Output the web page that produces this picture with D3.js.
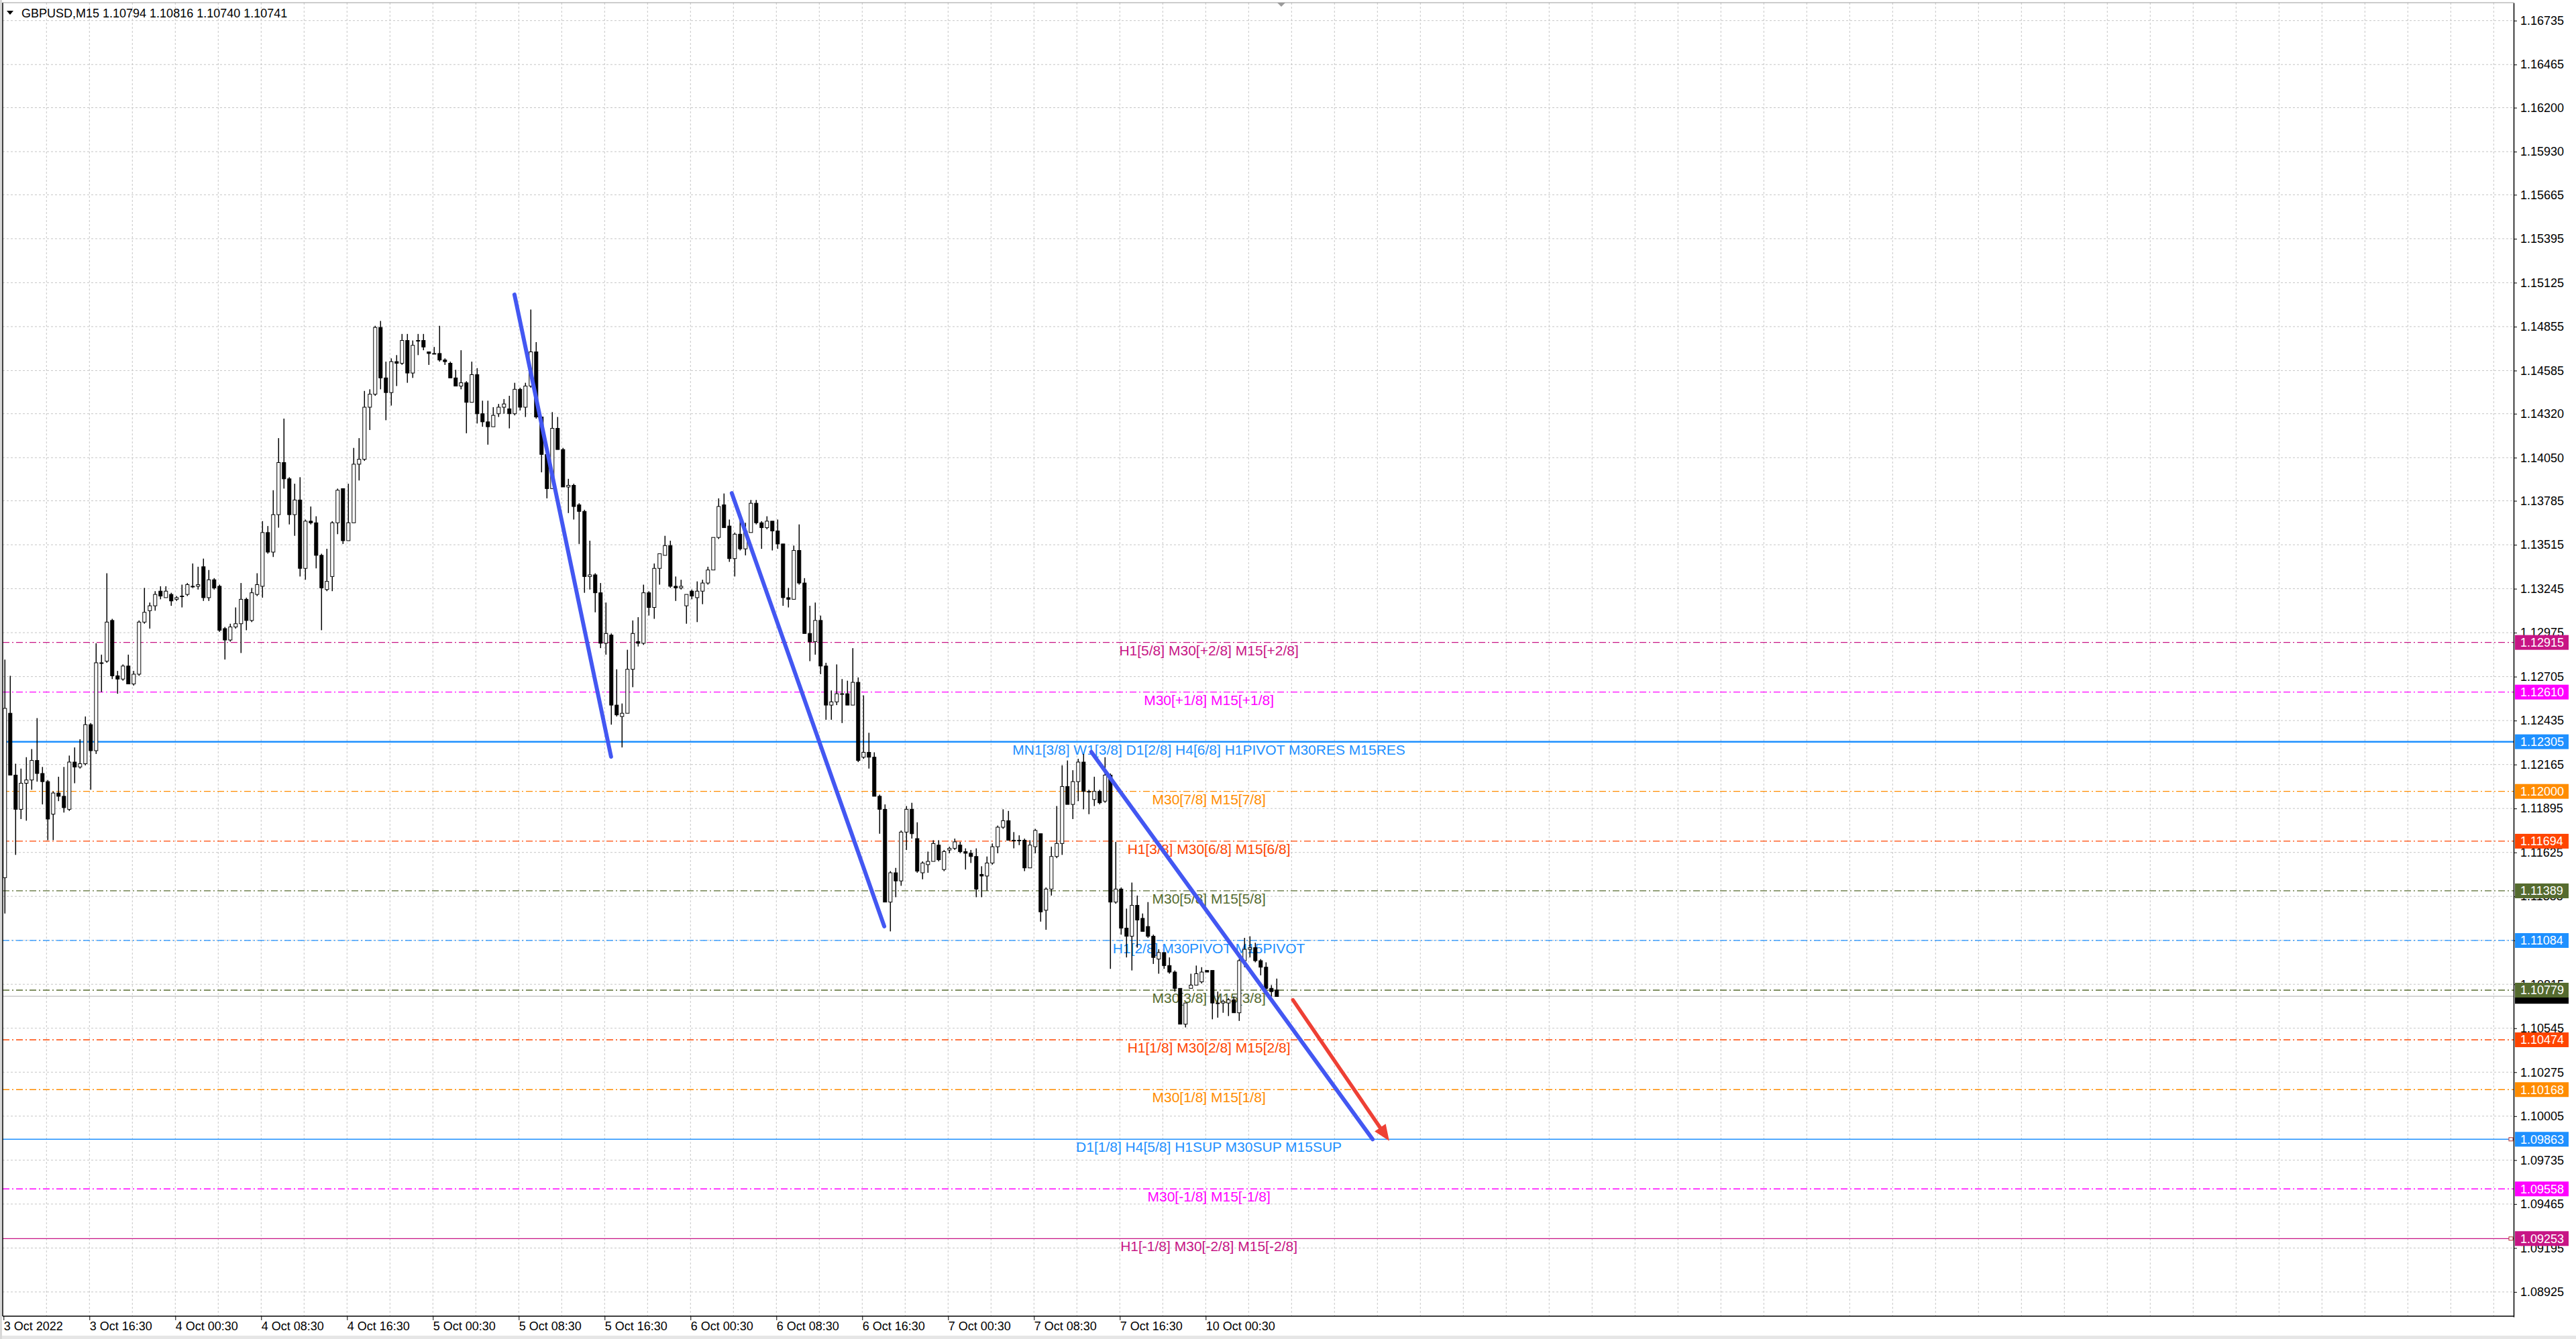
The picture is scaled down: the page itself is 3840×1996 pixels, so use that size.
<!DOCTYPE html>
<html>
<head>
<meta charset="utf-8">
<script src="https://cdn.jsdelivr.net/npm/d3@7"></script>
<style>
html, body { margin: 0; padding: 0; background: #fff; }
svg { display: block; }
</style>
</head>
<body>
<svg id="chart" width="3840" height="1996"></svg>
<script>
// GBPUSD M15 chart, candles read off the picture and grouped by 30 minutes
// candle k sits on M15 bar 2k (bar 0 = 3 Oct 08:30)
var opens = [
  1.1147,1.1248,1.1210,1.1189,1.1205,1.1207,1.1219,1.1211,1.1206,1.1186,
  1.1199,1.1197,1.1189,1.1218,1.1215,1.1217,1.1241,1.1225,1.1279,1.1280,
  1.1305,1.1271,1.1269,1.1277,1.1266,1.1272,1.1304,1.1311,1.1314,1.1323,
  1.1319,1.1321,1.1318,1.1320,1.1321,1.1326,1.1326,1.1338,1.1319,1.1330,
  1.1326,1.1300,1.1293,1.1301,1.1303,1.1318,1.1305,1.1321,1.1326,1.1359,
  1.1347,1.1370,1.1402,1.1392,1.1370,1.1379,1.1337,1.1366,1.1365,1.1345,
  1.1324,1.1332,1.1365,1.1386,1.1354,1.1365,1.1401,1.1404,1.1436,1.1444,
  1.1485,1.1454,1.1445,1.1464,1.1463,1.1477,1.1457,1.1477,1.1477,1.1470,
  1.1469,1.1469,1.1465,1.1463,1.1454,1.1449,1.1451,1.1439,1.1456,1.1432,
  1.1427,1.1424,1.1432,1.1436,1.1435,1.1432,1.1447,1.1436,1.1449,1.1470,
  1.1430,1.1407,1.1386,1.1423,1.1410,1.1387,1.1388,1.1376,1.1372,1.1332,
  1.1333,1.1322,1.1291,1.1296,1.1253,1.1246,1.1248,1.1275,1.1292,1.1291,
  1.1322,1.1313,1.1337,1.1345,1.1351,1.1326,1.1325,1.1314,1.1323,1.1319,
  1.1323,1.1328,1.1336,1.1356,1.1376,1.1363,1.1343,1.1358,1.1349,1.1359,
  1.1377,1.1365,1.1362,1.1366,1.1360,1.1352,1.1319,1.1318,1.1348,1.1328,
  1.1297,1.1292,1.1305,1.1277,1.1253,1.1255,1.1260,1.1260,1.1253,1.1267,
  1.1221,1.1224,1.1221,1.1197,1.1189,1.1132,1.1150,1.1145,1.1175,1.1189,
  1.1171,1.1150,1.1155,1.1157,1.1167,1.1152,1.1164,1.1165,1.1167,1.1163,
  1.1162,1.1160,1.1149,1.1148,1.1156,1.1166,1.1178,1.1182,1.1170,1.1170,
  1.1170,1.1153,1.1166,1.1174,1.1127,1.1140,1.1160,1.1168,1.1203,1.1192,
  1.1206,1.1218,1.1200,1.1195,1.1200,1.1194,1.1210,1.1132,1.1140,1.1116,
  1.1111,1.1130,1.1122,1.1117,1.1111,1.1097,1.1101,1.1093,1.1089,1.1079,
  1.1057,1.1079,1.1081,1.1083,1.1090,1.1090,1.1070,1.1070,1.1070,1.1072,
  1.1064,1.1096,1.1103,1.1104,1.1096,1.1092,1.1079,1.1078
];
var highs = [
  1.1281,1.1271,1.1217,1.1214,1.1221,1.1226,1.1245,1.1215,1.1207,1.1200,
  1.1209,1.1215,1.1222,1.1227,1.1232,1.1246,1.1242,1.1291,1.1284,1.1334,
  1.1306,1.1274,1.1278,1.1284,1.1274,1.1305,1.1325,1.1316,1.1323,1.1326,
  1.1326,1.1322,1.1320,1.1327,1.1328,1.1340,1.1338,1.1343,1.1336,1.1331,
  1.1327,1.1301,1.1303,1.1313,1.1328,1.1319,1.1325,1.1334,1.1366,1.1363,
  1.1385,1.1417,1.1429,1.1393,1.1389,1.1393,1.1367,1.1375,1.1369,1.1346,
  1.1349,1.1366,1.1386,1.1386,1.1389,1.1411,1.1417,1.1446,1.1447,1.1486,
  1.1489,1.1464,1.1466,1.1468,1.1481,1.1481,1.1477,1.1481,1.1481,1.1470,
  1.1473,1.1486,1.1466,1.1464,1.1459,1.1471,1.1452,1.1464,1.1460,1.1440,
  1.1440,1.1436,1.1438,1.1441,1.1443,1.1451,1.1448,1.1451,1.1496,1.1476,
  1.1430,1.1414,1.1433,1.1430,1.1411,1.1392,1.1389,1.1377,1.1373,1.1354,
  1.1334,1.1328,1.1316,1.1297,1.1275,1.1254,1.1287,1.1305,1.1307,1.1327,
  1.1323,1.1340,1.1346,1.1357,1.1354,1.1332,1.1330,1.1321,1.1324,1.1329,
  1.1330,1.1338,1.1356,1.1380,1.1383,1.1367,1.1359,1.1367,1.1365,1.1379,
  1.1379,1.1366,1.1369,1.1366,1.1367,1.1352,1.1325,1.1351,1.1364,1.1331,
  1.1314,1.1316,1.1308,1.1279,1.1262,1.1278,1.1269,1.1268,1.1288,1.1270,
  1.1259,1.1236,1.1224,1.1198,1.1192,1.1151,1.1153,1.1176,1.1191,1.1193,
  1.1181,1.1157,1.1163,1.1170,1.1170,1.1164,1.1166,1.1171,1.1169,1.1165,
  1.1164,1.1165,1.1154,1.1160,1.1168,1.1179,1.1189,1.1188,1.1175,1.1173,
  1.1171,1.1170,1.1177,1.1174,1.1141,1.1166,1.1191,1.1216,1.1219,1.1213,
  1.1220,1.1223,1.1201,1.1209,1.1201,1.1221,1.1211,1.1169,1.1141,1.1128,
  1.1144,1.1136,1.1125,1.1132,1.1112,1.1103,1.1101,1.1098,1.1090,1.1079,
  1.1070,1.1088,1.1093,1.1092,1.1090,1.1090,1.1077,1.1072,1.1073,1.1074,
  1.1097,1.1110,1.1111,1.1107,1.1097,1.1095,1.1081,1.1085
];
var lows = [
  1.1125,1.1210,1.1161,1.1183,1.1182,1.1201,1.1206,1.1192,1.1170,1.1170,
  1.1194,1.1187,1.1188,1.1205,1.1214,1.1216,1.1201,1.1223,1.1261,1.1279,
  1.1269,1.1260,1.1268,1.1266,1.1265,1.1271,1.1303,1.1300,1.1311,1.1318,
  1.1319,1.1314,1.1317,1.1313,1.1320,1.1325,1.1324,1.1317,1.1317,1.1324,
  1.1298,1.1281,1.1292,1.1300,1.1285,1.1299,1.1304,1.1320,1.1319,1.1346,
  1.1344,1.1362,1.1386,1.1364,1.1357,1.1332,1.1330,1.1364,1.1337,1.1299,
  1.1323,1.1323,1.1358,1.1352,1.1354,1.1365,1.1391,1.1403,1.1422,1.1443,
  1.1447,1.1428,1.1437,1.1449,1.1462,1.1451,1.1454,1.1468,1.1471,1.1462,
  1.1469,1.1464,1.1462,1.1454,1.1449,1.1447,1.1420,1.1439,1.1426,1.1424,
  1.1413,1.1424,1.1430,1.1432,1.1423,1.1431,1.1434,1.1430,1.1448,1.1429,
  1.1396,1.1380,1.1386,1.1410,1.1387,1.1371,1.1367,1.1352,1.1322,1.1324,
  1.1310,1.1288,1.1284,1.1241,1.1246,1.1227,1.1248,1.1264,1.1289,1.1290,
  1.1308,1.1306,1.1327,1.1345,1.1325,1.1317,1.1324,1.1303,1.1318,1.1304,
  1.1315,1.1327,1.1336,1.1355,1.1362,1.1341,1.1332,1.1348,1.1345,1.1359,
  1.1364,1.1349,1.1361,1.1348,1.1349,1.1314,1.1313,1.1318,1.1327,1.1297,
  1.1280,1.1284,1.1272,1.1244,1.1244,1.1253,1.1242,1.1253,1.1253,1.1218,
  1.1220,1.1214,1.1197,1.1174,1.1132,1.1114,1.1135,1.1142,1.1164,1.1171,
  1.1150,1.1146,1.1150,1.1157,1.1157,1.1151,1.1162,1.1164,1.1162,1.1152,
  1.1156,1.1135,1.1135,1.1139,1.1155,1.1162,1.1177,1.1170,1.1165,1.1167,
  1.1151,1.1153,1.1162,1.1120,1.1115,1.1136,1.1159,1.1161,1.1192,1.1183,
  1.1194,1.1189,1.1186,1.1191,1.1192,1.1193,1.1091,1.1131,1.1112,1.1098,
  1.1090,1.1104,1.1114,1.1110,1.1094,1.1088,1.1091,1.1088,1.1077,1.1057,
  1.1055,1.1079,1.1081,1.1082,1.1089,1.1060,1.1061,1.1064,1.1062,1.1064,
  1.1059,1.1092,1.1098,1.1095,1.1087,1.1078,1.1074,1.1074
];
var closes = [
  1.1251,1.1210,1.1189,1.1205,1.1207,1.1219,1.1211,1.1206,1.1183,1.1199,
  1.1197,1.1190,1.1218,1.1215,1.1217,1.1241,1.1225,1.1279,1.1279,1.1304,
  1.1271,1.1269,1.1277,1.1266,1.1272,1.1304,1.1310,1.1314,1.1321,1.1320,
  1.1323,1.1317,1.1319,1.1320,1.1327,1.1326,1.1327,1.1319,1.1330,1.1325,
  1.1299,1.1293,1.1301,1.1303,1.1318,1.1305,1.1322,1.1327,1.1359,1.1347,
  1.1370,1.1402,1.1392,1.1370,1.1379,1.1337,1.1366,1.1365,1.1345,1.1325,
  1.1329,1.1365,1.1385,1.1354,1.1365,1.1401,1.1404,1.1436,1.1444,1.1485,
  1.1454,1.1445,1.1464,1.1463,1.1477,1.1457,1.1474,1.1477,1.1473,1.1469,
  1.1469,1.1465,1.1464,1.1454,1.1449,1.1451,1.1439,1.1456,1.1432,1.1427,
  1.1424,1.1431,1.1436,1.1438,1.1432,1.1447,1.1436,1.1449,1.1470,1.1430,
  1.1407,1.1386,1.1423,1.1410,1.1387,1.1388,1.1375,1.1372,1.1332,1.1333,
  1.1322,1.1291,1.1297,1.1253,1.1247,1.1248,1.1275,1.1297,1.1291,1.1322,
  1.1313,1.1337,1.1346,1.1351,1.1326,1.1325,1.1326,1.1321,1.1320,1.1323,
  1.1328,1.1336,1.1356,1.1375,1.1362,1.1343,1.1358,1.1349,1.1360,1.1377,
  1.1365,1.1362,1.1366,1.1360,1.1352,1.1319,1.1318,1.1348,1.1328,1.1297,
  1.1292,1.1305,1.1277,1.1253,1.1255,1.1260,1.1260,1.1253,1.1267,1.1219,
  1.1224,1.1221,1.1197,1.1189,1.1132,1.1150,1.1145,1.1175,1.1189,1.1174,
  1.1151,1.1156,1.1157,1.1168,1.1158,1.1163,1.1165,1.1169,1.1163,1.1162,
  1.1160,1.1140,1.1148,1.1156,1.1166,1.1178,1.1182,1.1170,1.1170,1.1170,
  1.1153,1.1167,1.1176,1.1126,1.1140,1.1160,1.1168,1.1203,1.1192,1.1206,
  1.1218,1.1200,1.1200,1.1200,1.1193,1.1210,1.1132,1.1140,1.1116,1.1111,
  1.1130,1.1121,1.1114,1.1111,1.1098,1.1101,1.1093,1.1089,1.1079,1.1057,
  1.1070,1.1081,1.1088,1.1089,1.1089,1.1070,1.1070,1.1071,1.1072,1.1064,
  1.1096,1.1103,1.1104,1.1096,1.1092,1.1079,1.1077,1.1074
];

// price axis labels as printed
var yTicks = [1.16735,1.16465,1.16200,1.15930,1.15665,1.15395,1.15125,1.14855,1.14585,1.14320,
  1.14050,1.13785,1.13515,1.13245,1.12975,1.12705,1.12435,1.12165,1.11895,1.11625,
  1.11355,1.11085,1.10815,1.10545,1.10275,1.10005,1.09735,1.09465,1.09195,1.08925];

// time axis: M15 bar index and label
var xTickIdx = [0,32,64,96,128,160,192,224,256,288,320,352,384,416,448];
var xTickLabels = ['3 Oct 2022','3 Oct 16:30','4 Oct 00:30','4 Oct 08:30','4 Oct 16:30',
  '5 Oct 00:30','5 Oct 08:30','5 Oct 16:30','6 Oct 00:30','6 Oct 08:30','6 Oct 16:30',
  '7 Oct 00:30','7 Oct 08:30','7 Oct 16:30','10 Oct 00:30'];

// murrey math levels
var levelPrices = [1.12915,1.12610,1.12305,1.12000,1.11694,1.11389,1.11084,1.10779,1.10474,1.10168,1.09863,1.09558,1.09253];
var levelTexts = [
  'H1[5/8] M30[+2/8] M15[+2/8]',
  'M30[+1/8] M15[+1/8]',
  'MN1[3/8] W1[3/8] D1[2/8] H4[6/8] H1PIVOT M30RES M15RES',
  'M30[7/8] M15[7/8]',
  'H1[3/8] M30[6/8] M15[6/8]',
  'M30[5/8] M15[5/8]',
  'H1[2/8] M30PIVOT M15PIVOT',
  'M30[3/8] M15[3/8]',
  'H1[1/8] M30[2/8] M15[2/8]',
  'M30[1/8] M15[1/8]',
  'D1[1/8] H4[5/8] H1SUP M30SUP M15SUP',
  'M30[-1/8] M15[-1/8]',
  'H1[-1/8] M30[-2/8] M15[-2/8]'
];
var levelColors = ['#c71585','#ff00ff','#1e90ff','#ff8c00','#ff4500','#556b2f','#1e90ff',
  '#556b2f','#ff4500','#ff8c00','#1e90ff','#ff00ff','#c71585'];
var levelSolid = [false,false,true,false,false,false,false,false,false,false,true,false,true];

var bidPrice = 1.10741;
var titleText = 'GBPUSD,M15  1.10794 1.10816 1.10740 1.10741';

// hand drawn trend lines: [bar index, price]
var trendFrom = [[190.4, 1.15052], [271.4, 1.13832], [405.4, 1.12242]];
var trendTo = [[226.4, 1.12213], [328.2, 1.11171], [510.2, 1.09863]];
var arrowFrom = [480.5, 1.10719];
var arrowTo = [516.4, 1.09853];

var FONT = '"Liberation Sans", Arial, sans-serif';
var plotLeft = 4, plotRight = 3747, plotTop = 4, plotBottom = 1962;

var svg = d3.select('#chart');
var x = d3.scaleLinear().domain([0, 935.25]).range([5.3, 3746.3]);
var y = d3.scaleLinear().domain([1.08772, 1.16845]).range([1963, 4]);

svg.append('rect').attr('width', 3840).attr('height', 1996).attr('fill', '#fff');
svg.append('rect').attr('x', 0).attr('y', 1991).attr('width', 3840).attr('height', 5).attr('fill', '#e6e6e6');
svg.append('rect').attr('x', 0).attr('y', 0).attr('width', 3).attr('height', 1996).attr('fill', '#d8d8d8');

// --- grid ---
var grid = svg.append('g').attr('stroke', '#c6c6c6').attr('stroke-width', 1).attr('stroke-dasharray', '3,3');
grid.selectAll('line.v').data(d3.range(16, 930, 16)).enter().append('line')
  .attr('x1', function(d) { return x(d); }).attr('x2', function(d) { return x(d); })
  .attr('y1', plotTop).attr('y2', plotBottom);
grid.selectAll('line.h').data(yTicks).enter().append('line')
  .attr('x1', plotLeft).attr('x2', plotRight)
  .attr('y1', function(d) { return y(d); }).attr('y2', function(d) { return y(d); });

// --- level lines ---
var levels = levelPrices.map(function(p, i) {
  return { p: p, text: levelTexts[i], color: levelColors[i], solid: levelSolid[i] };
});
svg.append('g').selectAll('line').data(levels).enter().append('line')
  .attr('x1', plotLeft).attr('x2', plotRight)
  .attr('y1', function(d) { return y(d.p); }).attr('y2', function(d) { return y(d.p); })
  .attr('stroke', function(d) { return d.color; })
  .attr('stroke-width', function(d, i) { return i === 2 ? 2.4 : 1.3; })
  .attr('stroke-dasharray', function(d) { return d.solid ? null : '10,4,2,4'; });
// end markers on the thin solid lines
svg.append('g').selectAll('rect').data(levels.filter(function(d, i) { return d.solid && i !== 2; })).enter()
  .append('rect').attr('x', plotRight - 7).attr('y', function(d) { return y(d.p) - 2.5; })
  .attr('width', 6).attr('height', 5).attr('fill', '#fff').attr('stroke', '#b03030').attr('stroke-width', 1);

// bid line
svg.append('line').attr('x1', plotLeft).attr('x2', plotRight)
  .attr('y1', y(bidPrice)).attr('y2', y(bidPrice)).attr('stroke', '#bdbdbd').attr('stroke-width', 1.2);

// --- level captions (under the candles, like the terminal) ---
svg.append('g').selectAll('text').data(levels).enter().append('text')
  .attr('x', x(449.2)).attr('y', function(d) { return y(d.p) + 19; })
  .attr('text-anchor', 'middle').attr('font-family', FONT).attr('font-size', 21)
  .attr('fill', function(d) { return d.color; })
  .text(function(d) { return d.text; });

// --- candles ---
var candles = opens.map(function(o, k) {
  return { i: 2 * k + 0.5, o: o, h: highs[k], l: lows[k], c: closes[k] };
});
var cg = svg.append('g');
cg.selectAll('line').data(candles).enter().append('line')
  .attr('x1', function(d) { return x(d.i); }).attr('x2', function(d) { return x(d.i); })
  .attr('y1', function(d) { return y(d.h); }).attr('y2', function(d) { return y(d.l); })
  .attr('stroke', '#000').attr('stroke-width', 1.5);
cg.selectAll('rect').data(candles).enter().append('rect')
  .attr('x', function(d) { return x(d.i) - 2.5; }).attr('width', 5)
  .attr('y', function(d) { return y(Math.max(d.o, d.c)); })
  .attr('height', function(d) { return Math.max(1, Math.abs(y(d.o) - y(d.c))); })
  .attr('fill', function(d) { return d.c >= d.o ? '#fff' : '#000'; })
  .attr('stroke', '#000').attr('stroke-width', 1);

// --- trend lines ---
svg.append('g').selectAll('line').data(trendFrom).enter().append('line')
  .attr('x1', function(d) { return x(d[0]); }).attr('y1', function(d) { return y(d[1]); })
  .attr('x2', function(d, i) { return x(trendTo[i][0]); }).attr('y2', function(d, i) { return y(trendTo[i][1]); })
  .attr('stroke', '#4357f2').attr('stroke-width', 6).attr('stroke-linecap', 'round');

// red arrow
var ax1 = x(arrowFrom[0]), ay1 = y(arrowFrom[1]), ax2 = x(arrowTo[0]), ay2 = y(arrowTo[1]);
var len = Math.hypot(ax2 - ax1, ay2 - ay1), ux = (ax2 - ax1) / len, uy = (ay2 - ay1) / len;
var bx = ax2 - 24 * ux, by = ay2 - 24 * uy;
svg.append('line').attr('x1', ax1).attr('y1', ay1).attr('x2', bx + 3 * ux).attr('y2', by + 3 * uy)
  .attr('stroke', '#ee4035').attr('stroke-width', 5.5).attr('stroke-linecap', 'round');
svg.append('path')
  .attr('d', 'M' + ax2 + ',' + ay2 + 'L' + (bx - 10 * uy) + ',' + (by + 10 * ux) + 'L' + (bx + 10 * uy) + ',' + (by - 10 * ux) + 'Z')
  .attr('fill', '#ee4035');

// --- frame ---
svg.append('line').attr('x1', plotLeft).attr('x2', plotLeft).attr('y1', plotTop).attr('y2', plotBottom)
  .attr('stroke', '#000').attr('stroke-width', 1.5);
svg.append('line').attr('x1', plotLeft).attr('x2', plotRight).attr('y1', plotTop).attr('y2', plotTop)
  .attr('stroke', '#9a9a9a').attr('stroke-width', 1);
svg.append('path').attr('d', 'M1904,4L1916,4L1910,10Z').attr('fill', '#9a9a9a');

// --- axes ---
var yAxis = d3.axisRight(y).tickValues(yTicks).tickFormat(d3.format('.5f'))
  .tickSize(5).tickSizeOuter(0).tickPadding(5);
var gy = svg.append('g').attr('transform', 'translate(' + plotRight + ',0)').call(yAxis)
  .attr('font-family', FONT).attr('font-size', 18);
gy.select('.domain').attr('stroke', '#000').attr('stroke-width', 1.5);
gy.selectAll('.tick line').attr('stroke', '#000');
gy.selectAll('.tick text').attr('fill', '#000');

var xAxis = d3.axisBottom(x).tickValues(xTickIdx)
  .tickFormat(function(d, i) { return xTickLabels[i]; })
  .tickSize(6).tickSizeOuter(0);
var gx = svg.append('g').attr('transform', 'translate(0,' + plotBottom + ')').call(xAxis)
  .attr('font-family', FONT).attr('font-size', 18);
gx.select('.domain').attr('d', 'M' + plotLeft + ',0H' + plotRight).attr('stroke', '#000').attr('stroke-width', 1.5);
gx.selectAll('.tick line').attr('stroke', '#000');
gx.selectAll('.tick text').attr('fill', '#000').attr('text-anchor', 'start').attr('y', 8);

// --- price boxes on the right ---
var boxes = svg.append('g').attr('font-family', FONT).attr('font-size', 18);
boxes.append('rect').attr('x', plotRight + 2).attr('y', y(bidPrice) - 11).attr('width', 80).attr('height', 22).attr('fill', '#000');
var bg = boxes.selectAll('g').data(levels).enter().append('g');
bg.append('rect').attr('x', plotRight + 2).attr('y', function(d) { return y(d.p) - 11; })
  .attr('width', 80).attr('height', 22).attr('fill', function(d) { return d.color; });
bg.append('text').attr('x', plotRight + 10).attr('y', function(d) { return y(d.p); }).attr('dy', '0.36em')
  .attr('fill', '#fff').text(function(d) { return d3.format('.5f')(d.p); });

// --- title ---
svg.append('path').attr('d', 'M10,16L20,16L15,22Z').attr('fill', '#000');
svg.append('text').attr('x', 32).attr('y', 25.5).attr('font-family', FONT).attr('font-size', 18)
  .attr('fill', '#000').text(titleText);
</script>
</body>
</html>
